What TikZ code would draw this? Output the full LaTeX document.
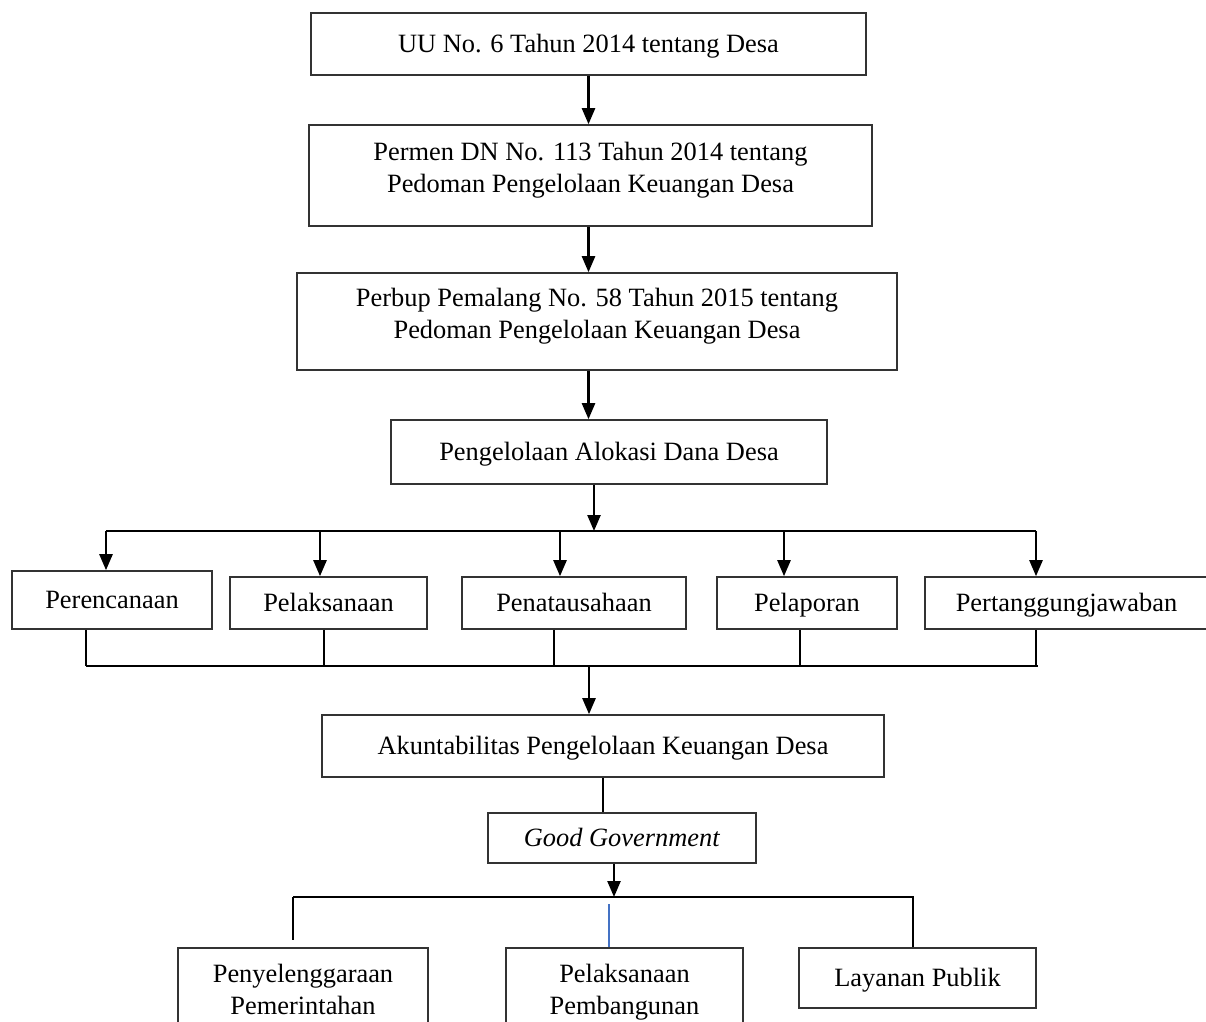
\documentclass[tikz,border=0pt]{standalone}
\usepackage{fontspec}
\setmainfont{Liberation Serif}
\usetikzlibrary{arrows.meta, positioning}
\definecolor{linkblue}{RGB}{68,114,196}

\begin{document}
\begin{tikzpicture}[x=1pt, y=-1pt,
    box/.style={draw=black!80, line width=1.6pt, inner sep=0pt, align=center,
      font=\fontsize{26.4}{32}\selectfont, text height=22pt, text depth=6pt},
    twoline/.style={text height=39pt, text depth=6pt},
    arr/.style={line width=2.4pt, -{Triangle[length=16pt, width=13pt]}},
    link/.style={line width=2.4pt}]
    \useasboundingbox (0,0) rectangle (1206,1021);
    \clip (0,0) rectangle (1206,1021);

    % legal basis
    \node[box, minimum width=555pt, minimum height=62pt] (uu) at (588.5, 44) {UU No. 6 Tahun 2014 tentang Desa};
    \node[box, twoline, minimum width=563pt, minimum height=101pt] (permen) at (590.5, 175.5) {Permen DN No. 113 Tahun 2014 tentang\\Pedoman Pengelolaan Keuangan Desa};
    \node[box, twoline, minimum width=600pt, minimum height=97pt] (perbup) at (597, 321.5) {Perbup Pemalang No. 58 Tahun 2015 tentang\\Pedoman Pengelolaan Keuangan Desa};
    \node[box, minimum width=436pt, minimum height=64pt] (alokasi) at (609, 452) {Pengelolaan Alokasi Dana Desa};

    % stages
    \node[box, minimum width=200pt, minimum height=58pt] (rencana) at (112, 600) {Perencanaan};
    \node[box, minimum width=197pt, minimum height=52pt] (laksana) at (328.5, 603) {Pelaksanaan};
    \node[box, minimum width=224pt, minimum height=52pt] (tatausaha) at (574, 603) {Penatausahaan};
    \node[box, minimum width=180pt, minimum height=52pt] (lapor) at (807, 603) {Pelaporan};
    \node[box, minimum width=283pt, minimum height=52pt] (tanggung) at (1066.5, 603) {Pertanggungjawaban};

    \node[box, minimum width=562pt, minimum height=62pt] (akun) at (603, 746) {Akuntabilitas Pengelolaan Keuangan Desa};
    \node[box, minimum width=268pt, minimum height=50pt] (gg) at (622, 838) {\textit{Good Government}};

    % outcomes
    \node[box, twoline, minimum width=250pt, minimum height=100pt] (pemerintahan) at (303, 998) {Penyelenggaraan\\Pemerintahan};
    \node[box, twoline, minimum width=237pt, minimum height=100pt] (pembangunan) at (624.5, 998) {Pelaksanaan\\Pembangunan};
    \node[box, minimum width=237pt, minimum height=60pt] (publik) at (917.5, 978) {Layanan Publik};

    % connectors
    \draw[arr] (uu.south) -- (uu.south |- permen.north);
    \draw[arr] (uu.south |- permen.south) -- (uu.south |- perbup.north);
    \draw[arr] (uu.south |- perbup.south) -- (uu.south |- alokasi.north);

    \coordinate (split) at (594, 531);
    \draw[arr] (split |- alokasi.south) -- (split);
    \draw[link] (106, 531) -- (1036, 531);
    \foreach \x/\n in {106/rencana, 320/laksana, 560/tatausaha, 784/lapor, 1036/tanggung} {
        \coordinate (t) at (\x, 531);
        \draw[arr] (t) -- (t |- \n.north);
    }

    \foreach \x/\n in {86/rencana, 324/laksana, 554/tatausaha, 800/lapor, 1036/tanggung} {
        \coordinate (b) at (\x, 666);
        \draw[link] (b |- \n.south) -- (b);
    }
    \draw[link] (86, 666) -- (1038, 666);
    \coordinate (join) at (589, 666);
    \draw[arr] (join) -- (join |- akun.north);

    \draw[link] (akun.south) -- (akun.south |- gg.north);

    \coordinate (fork) at (614, 897);
    \draw[arr] (fork |- gg.south) -- (fork);
    \draw[line width=1.8pt] (293, 897) -- (914, 897);
    \draw[link] (293, 897) -- (293, 940);
    \coordinate (mid) at (609, 904);
    \draw[line width=1.5pt, linkblue] (mid) -- (mid |- pembangunan.north);
    \coordinate (right) at (913, 897);
    \draw[line width=1.5pt] (right) -- (right |- publik.north);
\end{tikzpicture}
\end{document}
